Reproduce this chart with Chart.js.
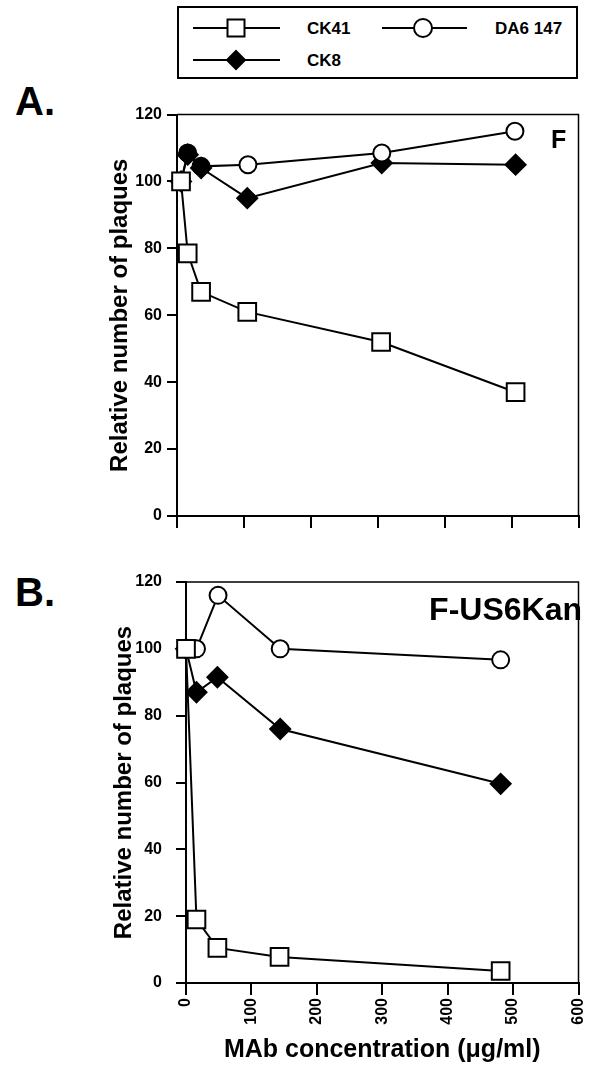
<!DOCTYPE html>
<html>
<head>
<meta charset="utf-8">
<script src="https://cdn.jsdelivr.net/npm/chart.js@4.4.1/dist/chart.umd.min.js"></script>
<style>
  html, body { margin: 0; padding: 0; background: #fff; }
  body { width: 593px; height: 1065px; position: relative; overflow: hidden;
         font-family: "Liberation Sans", Arial, sans-serif; font-weight: bold; color: #000; }
  .abs { position: absolute; white-space: nowrap; }
  canvas { position: absolute; left: 0; }
  #legendBox { position: absolute; left: 177px; top: 6px; width: 401px; height: 73px;
               border: 2px solid #000; box-sizing: border-box; }
  .leg { font-size: 17px; line-height: 17px; }
</style>
</head>
<body>

<div id="legendBox"></div>
<svg class="abs" style="left:0;top:0" width="593" height="90">
  <g stroke="#000" stroke-width="2" fill="none">
    <line x1="193" y1="28" x2="280" y2="28"/>
    <rect x="227.5" y="19.5" width="17" height="17" fill="#fff"/>
    <line x1="382" y1="28" x2="467" y2="28"/>
    <circle cx="423" cy="28" r="9" fill="#fff"/>
    <line x1="193" y1="60" x2="280" y2="60"/>
    <polygon points="236,51 245,60 236,69 227,60" fill="#000"/>
  </g>
</svg>
<div class="abs leg" style="left:307px;top:20px">CK41</div>
<div class="abs leg" style="left:495px;top:20px">DA6 147</div>
<div class="abs leg" style="left:307px;top:52px">CK8</div>

<div class="abs" style="left:15px;top:81px;font-size:40px;line-height:40px">A.</div>
<div class="abs" style="left:15px;top:572px;font-size:40px;line-height:40px">B.</div>

<canvas id="chartA" width="593" height="440" style="top:100px"></canvas>
<canvas id="chartB" width="593" height="505" style="top:560px"></canvas>

<div class="abs" style="left:551px;top:127px;font-size:25px;line-height:25px">F</div>
<div class="abs" style="right:11px;top:593px;font-size:32px;line-height:32px">F-US6Kan</div>

<script>
// panel A (F)
const aCK41X = [6, 16, 36, 105, 305, 506];
const aCK41Y = [100, 78.5, 67, 61, 52, 37];
const aDA6X = [6, 16, 36, 106, 306, 505];
const aDA6Y = [100, 108.5, 104.5, 105, 108.5, 115];
const aCK8X = [6, 16, 36, 105, 306, 506];
const aCK8Y = [100, 108, 104, 95, 105.5, 105];

// panel B (F-US6Kan)
const bCK41X = [0, 16, 48, 143, 481];
const bCK41Y = [100, 19, 10.5, 7.8, 3.6];
const bDA6X = [0, 16, 49, 144, 481];
const bDA6Y = [100, 100, 116, 100, 96.7];
const bCK8X = [0, 16, 48, 144, 481];
const bCK8Y = [100, 87, 91.5, 76, 59.6];

const xTicks = [0, 100, 200, 300, 400, 500, 600];
const yTicks = [0, 20, 40, 60, 80, 100, 120];

Chart.defaults.font.family = "'Liberation Sans', Arial, sans-serif";
Chart.defaults.font.weight = "bold";
Chart.defaults.color = "#000";

function pts(xs, ys) {
  return xs.map((x, i) => ({ x: x, y: ys[i] }));
}

// thin top and right sides of the plot box
const framePlugin = {
  id: "frame",
  beforeDatasetsDraw(chart) {
    const { ctx, chartArea: a } = chart;
    ctx.save();
    ctx.strokeStyle = "#000";
    ctx.lineWidth = 1.5;
    ctx.beginPath();
    ctx.moveTo(a.left, a.top);
    ctx.lineTo(a.right, a.top);
    ctx.lineTo(a.right, a.bottom);
    ctx.stroke();
    ctx.restore();
  },
};

function series(data, style, fill) {
  const s = {
    data: data,
    borderColor: "#000",
    borderWidth: 2,
    tension: 0,
    clip: false,
    pointBorderColor: "#000",
    pointBorderWidth: 2,
    pointBackgroundColor: fill,
    pointStyle: style,
  };
  if (style === "rect") s.pointRadius = 12.5;
  else if (style === "circle") s.pointRadius = 8.5;
  else s.pointRadius = 10;
  s.pointHoverRadius = s.pointRadius;
  return s;
}

function makeChart(id, datasets, opt) {
  new Chart(document.getElementById(id), {
    type: "line",
    data: { datasets: datasets },
    options: {
      responsive: false,
      animation: false,
      devicePixelRatio: 1,
      layout: { padding: { left: opt.padLeft, top: opt.padTop, right: opt.padRight, bottom: 0 } },
      plugins: { legend: { display: false }, tooltip: { enabled: false } },
      scales: {
        x: {
          type: "linear",
          min: 0,
          max: 600,
          afterBuildTicks: (s) => { s.ticks = xTicks.map((v) => ({ value: v })); },
          grid: { drawOnChartArea: false, drawTicks: true, tickLength: 12, color: "#000", lineWidth: 2 },
          border: { display: true, color: "#000", width: 2 },
          ticks: {
            display: opt.xLabels,
            minRotation: 90,
            maxRotation: 90,
            padding: 3,
            font: { size: 16, weight: "bold" },
          },
          title: {
            display: opt.xLabels,
            text: "MAb concentration (μg/ml)",
            font: { size: 25, weight: "bold" },
            padding: 0,
          },
          afterFit: (s) => { s.height = opt.xHeight; s.paddingLeft = 0; s.paddingRight = 0; },
        },
        y: {
          min: 0,
          max: 120,
          afterBuildTicks: (s) => { s.ticks = yTicks.map((v) => ({ value: v })); },
          grid: { drawOnChartArea: false, drawTicks: true, tickLength: 10, color: "#000", lineWidth: 2 },
          border: { display: true, color: "#000", width: 2 },
          ticks: { padding: opt.yPad, font: { size: 16, weight: "bold" } },
          title: {
            display: true,
            text: "Relative number of plaques",
            font: { size: 24, weight: "bold" },
            padding: 0,
          },
          afterFit: (s) => { s.width = opt.yWidth; s.paddingTop = 0; s.paddingBottom = 0; },
        },
      },
    },
    plugins: [framePlugin],
  });
}

makeChart("chartA", [
  series(pts(aCK41X, aCK41Y), "rect", "#fff"),
  series(pts(aDA6X, aDA6Y), "circle", ["#fff", "#000", "#000", "#fff", "#fff", "#fff"]),
  series(pts(aCK8X, aCK8Y), "rectRot", "#000"),
], { padLeft: 106, padTop: 14, padRight: 11, xHeight: 24, yWidth: 71, yPad: 5, xLabels: false });

makeChart("chartB", [
  series(pts(bCK41X, bCK41Y), "rect", "#fff"),
  series(pts(bDA6X, bDA6Y), "circle", "#fff"),
  series(pts(bCK8X, bCK8Y), "rectRot", "#000"),
], { padLeft: 110, padTop: 22, padRight: 5, xHeight: 82, yWidth: 76, yPad: 14, xLabels: true });
</script>
</body>
</html>
